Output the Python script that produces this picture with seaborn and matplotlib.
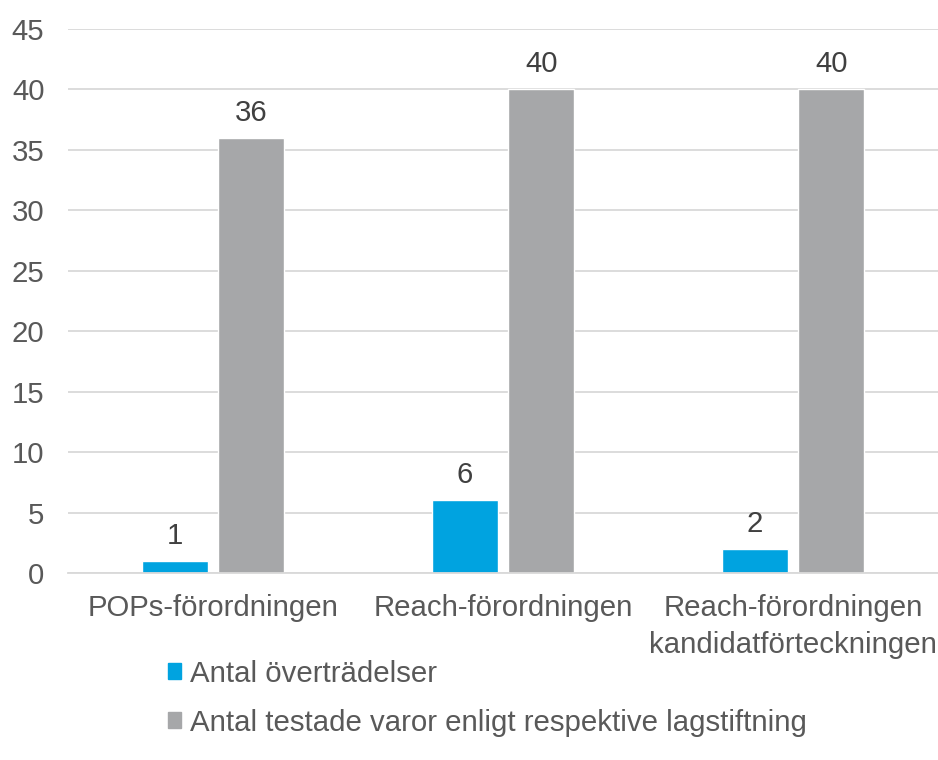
import pandas as pd
import matplotlib
matplotlib.use('Agg')
import matplotlib.pyplot as plt
import seaborn as sns

categories = ['POPs-förordningen', 'Reach-förordningen', 'Reach-förordningen\nkandidatförteckningen']
series_names = ['Antal överträdelser', 'Antal testade varor enligt respektive lagstiftning']
violations = [1, 6, 2]
tested = [36, 40, 40]
colors = ['#00a3e0', '#a6a7a9']
TXT = '#595959'

df = pd.DataFrame({
    'kategori': categories * 2,
    'serie': [series_names[0]] * 3 + [series_names[1]] * 3,
    'antal': violations + tested,
})

sns.set_theme(style='white')
plt.rcParams['font.family'] = ['Liberation Sans', 'DejaVu Sans']
FS = 21.2

fig = plt.figure(figsize=(9.38, 7.6), dpi=100)
ax = fig.add_axes([0.0725, 0.246, 0.9275, 0.716])

sns.barplot(data=df, x='kategori', y='antal', hue='serie', palette=colors,
            width=0.53, gap=0.14, ax=ax, saturation=1, legend=True)

for cont in ax.containers:
    ax.bar_label(cont, padding=8, fontsize=FS, color='#404040')

ax.set_ylim(0, 45)
ax.set_yticks(range(0, 46, 5))
ax.yaxis.grid(True, color='#d9d9d9', linewidth=1.3)
ax.set_axisbelow(True)
ax.set_xlabel('')
ax.set_ylabel('')
for s in ['left', 'right', 'top']:
    ax.spines[s].set_visible(False)
ax.spines['bottom'].set_color('#d9d9d9')
ax.spines['bottom'].set_linewidth(1.3)
ax.tick_params(axis='both', length=0, labelsize=FS, labelcolor=TXT)
ax.tick_params(axis='y', pad=17)
ax.tick_params(axis='x', pad=15)
for lab in ax.get_xticklabels():
    lab.set_linespacing(1.4)

ax.legend_.remove()
handles = [plt.Rectangle((0, 0), 1, 1, color=c) for c in colors]
fig.legend(handles, series_names, loc='upper left', bbox_to_anchor=(0.151, 0.167),
           ncol=1, frameon=False, fontsize=FS, labelcolor=TXT,
           handlelength=0.45, handleheight=0.45, handletextpad=0.3, labelspacing=0.72)

fig.savefig('out.png', dpi=100)
